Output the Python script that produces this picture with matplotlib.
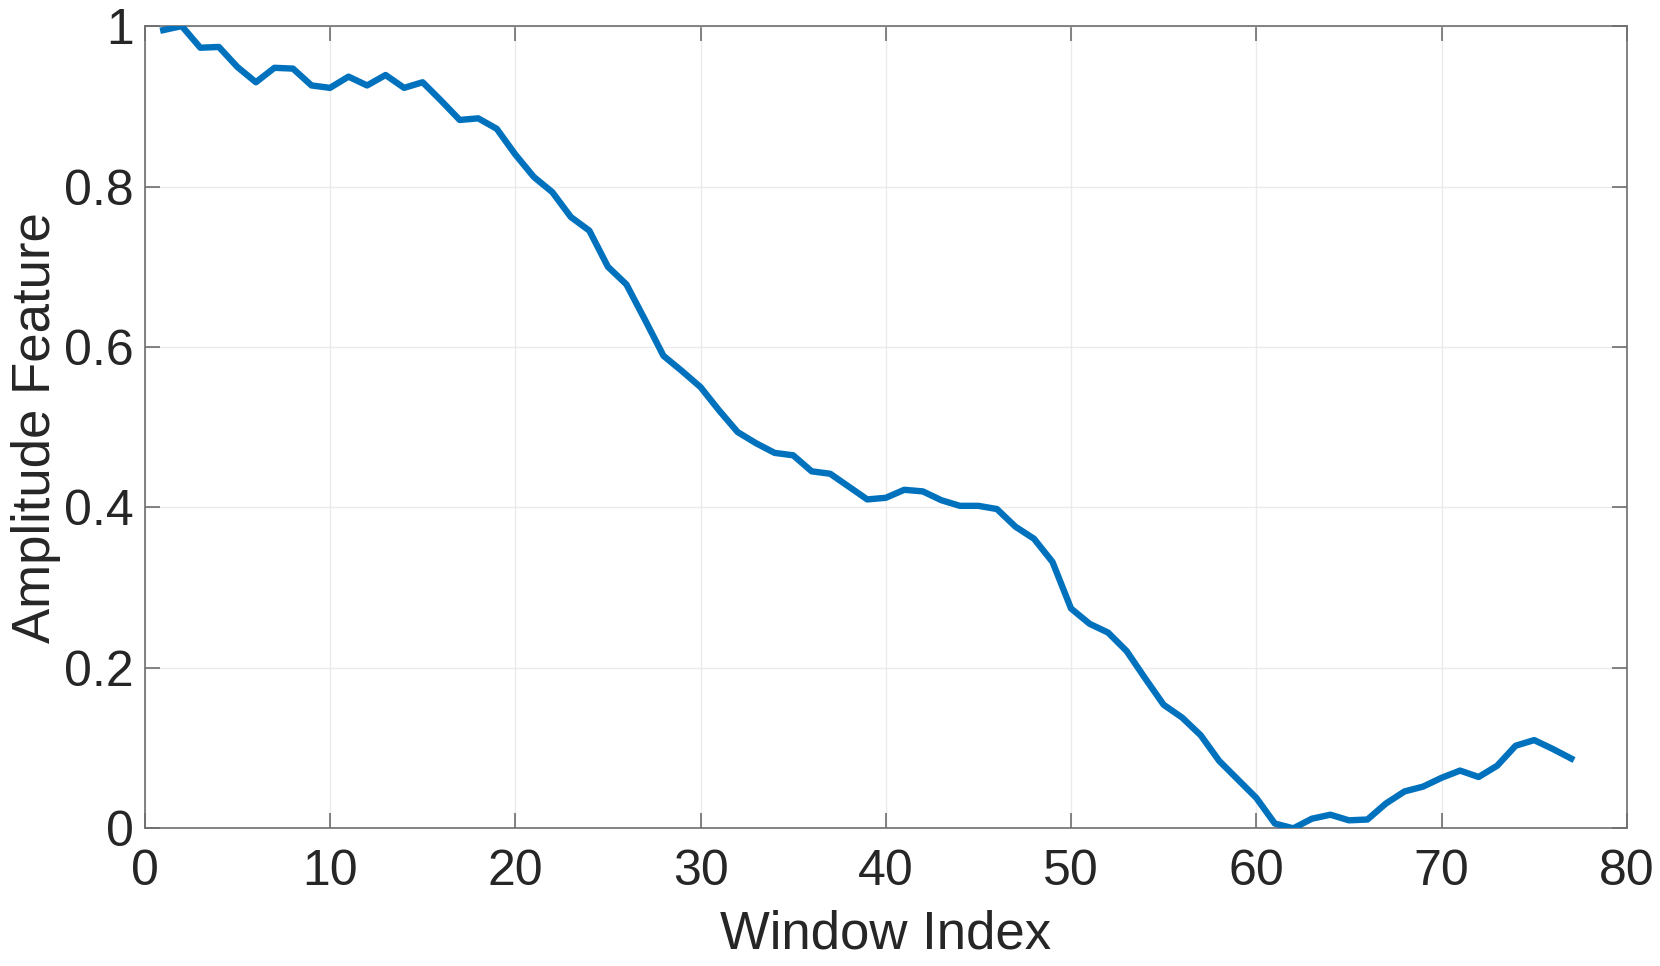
import numpy as np
import matplotlib
matplotlib.use("Agg")
from matplotlib import pyplot as plt

# window index and normalised amplitude feature
window_index = np.arange(1, 78)
amplitude = [
    0.995, 1.000, 0.973, 0.974, 0.949, 0.930, 0.948, 0.947, 0.926, 0.923,
    0.937, 0.926, 0.939, 0.923, 0.930, 0.907, 0.883, 0.885, 0.872, 0.840,
    0.812, 0.793, 0.762, 0.745, 0.700, 0.678, 0.634, 0.589, 0.570, 0.550,
    0.521, 0.494, 0.480, 0.468, 0.465, 0.445, 0.442, 0.426, 0.410, 0.412,
    0.422, 0.420, 0.409, 0.402, 0.402, 0.398, 0.376, 0.361, 0.332, 0.274,
    0.255, 0.244, 0.221, 0.187, 0.154, 0.138, 0.116, 0.084, 0.061, 0.038,
    0.006, 0.000, 0.012, 0.017, 0.010, 0.011, 0.031, 0.046, 0.052, 0.063,
    0.072, 0.064, 0.078, 0.103, 0.110, 0.099, 0.087,
]
x_ticks = [0, 10, 20, 30, 40, 50, 60, 70, 80]
y_ticks = [0, 0.2, 0.4, 0.6, 0.8, 1]
y_tick_labels = ["0", "0.2", "0.4", "0.6", "0.8", "1"]

plt.rcParams["font.family"] = ["Liberation Sans", "DejaVu Sans"]

fig = plt.figure(figsize=(16.6, 9.66), dpi=100)
ax = fig.add_axes([0.0872, 0.1425, 0.8928, 0.8305])

ax.plot(window_index, amplitude, color="#0072BD", linewidth=4.6, zorder=3)

ax.set_xlim(0, 80)
ax.set_ylim(0, 1)
ax.set_xticks(x_ticks)
ax.set_yticks(y_ticks)
ax.set_yticklabels(y_tick_labels)

# matlab-like look
ax.grid(True, color="#ebebeb", linewidth=1.0)
ax.set_axisbelow(True)
for sp in ax.spines.values():
    sp.set_color("#6e6e6e")
    sp.set_linewidth(1.2)
ax.tick_params(direction="in", length=11, width=1.2, color="#6e6e6e",
               top=True, right=True, labelsize=36, labelcolor="#262626")
ax.tick_params(axis="x", pad=15)
ax.tick_params(axis="y", pad=8)

ax.set_xlabel("Window Index", fontsize=38, color="#262626", labelpad=10)
ax.set_ylabel("Amplitude Feature", fontsize=38, color="#262626", labelpad=2)

fig.savefig("out.png", dpi=100, facecolor="white")
